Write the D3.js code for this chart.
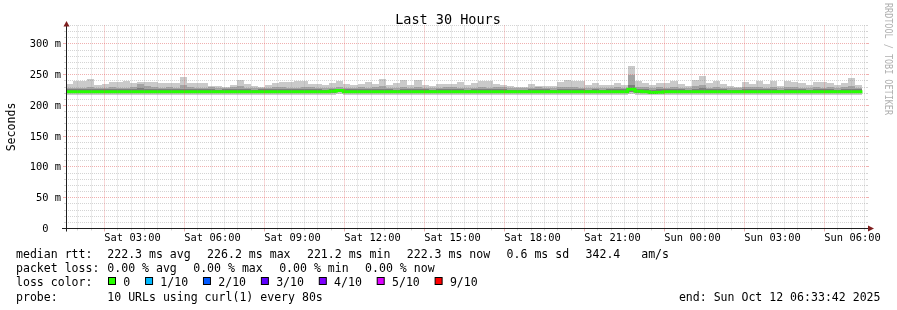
<!DOCTYPE html>
<html>
<head>
<meta charset="utf-8">
<script src="https://cdn.jsdelivr.net/npm/d3@7"></script>
<style>
  html, body { margin: 0; padding: 0; background: #fff; }
  svg { will-change: transform; }
  svg text { font-family: "DejaVu Sans Mono", monospace; fill: #000; white-space: pre; }
</style>
</head>
<body>
<svg id="chart" width="897" height="310"></svg>
<script>
// smokeping style "Last 30 Hours" graph

const endTime = new Date(2025, 9, 12, 6, 33, 42);
const hoursShown = 30;
const stepSeconds = 960;   // 12 pings x 80s per consolidated step

// values in ms, one per step
const medianRtt = [
  222.3, 222.3, 222.3, 222.3, 222.3, 222.3, 222.3, 222.3, 222.3, 222.3,
  222.3, 222.3, 222.3, 222.3, 222.3, 222.3, 222.3, 222.3, 222.3, 222.3,
  222.3, 222.3, 222.3, 222.3, 222.3, 222.3, 222.3, 222.3, 222.3, 222.3,
  222.3, 222.3, 222.3, 222.3, 222.3, 222.3, 222.3, 223.0, 224.4, 222.3,
  222.3, 222.3, 222.3, 222.3, 222.3, 222.3, 222.3, 222.3, 222.3, 222.3,
  222.3, 222.3, 222.3, 222.3, 222.3, 222.3, 222.3, 222.3, 222.3, 222.3,
  222.3, 222.3, 222.3, 222.3, 222.3, 222.3, 222.3, 222.3, 222.3, 222.3,
  222.3, 222.3, 222.3, 222.3, 222.3, 222.3, 222.3, 222.3, 222.3, 226.2,
  223.2, 222.3, 221.2, 221.6, 222.3, 222.3, 222.3, 222.3, 222.3, 222.3,
  222.3, 222.3, 222.3, 222.3, 222.3, 222.3, 222.3, 222.3, 222.3, 222.3,
  222.3, 222.3, 222.3, 222.3, 222.3, 222.3, 222.3, 222.3, 222.3, 222.3,
  222.3, 222.3
];
const rttMax = [
  235.3, 239.1, 239.1, 243.0, 233.7, 234.8, 238.0, 238.0, 239.1, 236.4,
  238.0, 238.0, 238.0, 236.4, 236.4, 236.4, 246.2, 236.4, 236.4, 236.4,
  231.5, 231.5, 229.9, 232.6, 241.3, 234.8, 231.5, 229.9, 232.6, 236.4,
  238.0, 238.0, 239.1, 239.1, 234.8, 234.8, 232.6, 236.5, 239.1, 234.8,
  232.6, 234.8, 238.0, 234.8, 243.0, 232.6, 236.4, 241.3, 232.6, 241.3,
  232.6, 231.5, 234.8, 234.8, 234.8, 238.0, 233.7, 236.4, 239.1, 239.1,
  234.8, 233.7, 231.5, 229.9, 229.4, 234.8, 231.0, 231.5, 231.5, 238.0,
  241.0, 240.2, 239.1, 233.7, 237.0, 232.6, 233.7, 236.4, 233.7, 264.7,
  239.1, 236.4, 232.6, 236.4, 236.4, 239.1, 234.8, 231.0, 241.3, 248.4,
  236.4, 239.1, 234.8, 231.0, 229.4, 238.0, 234.8, 239.1, 234.8, 239.1,
  231.0, 239.1, 238.0, 236.4, 232.6, 238.0, 238.0, 236.4, 232.6, 236.4,
  244.6, 232.6
];
const rttP9 = [
  228.5, 229.0, 229.0, 230.0, 228.5, 229.0, 229.5, 229.0, 229.0, 230.0,
  235.0, 231.0, 229.5, 229.0, 230.0, 229.0, 233.0, 229.5, 229.0, 229.0,
  229.5, 228.5, 229.0, 230.5, 231.0, 229.0, 228.5, 229.0, 228.5, 229.5,
  230.0, 229.0, 229.0, 230.0, 230.5, 229.0, 228.5, 229.0, 230.0, 228.5,
  229.0, 229.5, 229.0, 230.0, 231.0, 229.0, 228.5, 229.5, 229.0, 230.0,
  229.0, 228.5, 229.0, 229.5, 230.0, 229.0, 228.5, 229.0, 229.5, 229.0,
  230.0, 229.5, 228.5, 228.5, 228.0, 229.0, 229.5, 229.0, 228.5, 230.0,
  230.5, 229.5, 229.0, 228.5, 229.0, 228.5, 229.0, 229.5, 228.5, 250.0,
  230.0, 229.5, 228.5, 229.5, 229.0, 229.5, 229.0, 228.5, 232.0, 233.5,
  229.0, 229.5, 229.0, 228.5, 228.0, 230.0, 229.5, 230.0, 229.0, 230.0,
  228.5, 229.5, 229.5, 229.0, 228.5, 229.5, 229.0, 229.5, 228.5, 229.5,
  231.0, 229.0
];
const rttP8 = [
  226.3, 226.5, 226.0, 226.7, 226.1, 226.3, 226.9, 226.2, 226.0, 226.5,
  228.0, 227.0, 226.3, 226.1, 226.5, 226.0, 227.5, 226.3, 226.1, 226.0,
  226.5, 225.9, 226.3, 226.9, 227.0, 226.1, 225.9, 226.3, 226.0, 226.5,
  226.7, 226.1, 226.3, 226.8, 227.0, 226.2, 225.9, 226.4, 227.0, 226.0,
  226.3, 226.5, 226.1, 226.7, 227.0, 226.2, 225.9, 226.5, 226.1, 226.9,
  226.0, 225.8, 226.2, 226.5, 226.7, 226.1, 225.9, 226.3, 226.6, 226.2,
  226.8, 226.4, 225.9, 225.8, 225.7, 226.3, 226.5, 226.1, 225.9, 226.8,
  227.1, 226.5, 226.2, 225.9, 226.3, 225.9, 226.1, 226.5, 226.0, 234.0,
  226.9, 226.5, 225.9, 226.5, 226.2, 226.5, 226.3, 225.9, 227.0, 228.0,
  226.2, 226.6, 226.3, 225.9, 225.7, 226.8, 226.4, 226.7, 226.2, 226.8,
  225.9, 226.5, 226.5, 226.2, 225.9, 226.5, 226.3, 226.5, 225.9, 226.5,
  226.8, 226.1
];
const rttP2 = [
  220.2, 220.0, 220.3, 220.1, 220.2, 220.2, 220.0, 220.3, 220.2, 220.1,
  220.4, 220.2, 220.1, 220.2, 220.0, 220.2, 220.5, 220.2, 220.1, 220.2,
  220.0, 220.2, 220.1, 220.3, 220.4, 220.2, 220.0, 220.1, 220.2, 220.2,
  220.3, 220.1, 220.2, 220.2, 220.3, 220.1, 220.0, 220.6, 221.5, 220.4,
  220.2, 220.1, 220.2, 220.3, 220.4, 220.2, 220.0, 220.2, 220.1, 220.3,
  220.0, 220.1, 220.2, 220.2, 220.3, 220.1, 220.0, 220.2, 220.2, 220.1,
  220.3, 220.2, 220.0, 220.0, 219.9, 220.2, 220.2, 220.1, 220.0, 220.3,
  220.3, 220.2, 220.1, 220.0, 220.1, 220.0, 220.1, 220.2, 220.0, 221.8,
  220.6, 220.2, 219.8, 220.0, 220.1, 220.2, 220.1, 220.0, 220.4, 220.5,
  220.1, 220.2, 220.1, 220.0, 219.9, 220.3, 220.2, 220.2, 220.1, 220.2,
  220.0, 220.2, 220.2, 220.1, 220.0, 220.2, 220.1, 220.2, 220.0, 220.2,
  220.4, 220.1
];
const rttMin = [
  217.4, 217.3, 217.5, 217.2, 217.4, 217.5, 217.3, 217.4, 217.6, 217.4,
  217.2, 217.4, 217.5, 217.3, 217.4, 217.4, 217.1, 217.5, 217.4, 217.3,
  217.5, 217.4, 217.6, 217.3, 217.2, 217.4, 217.5, 217.4, 217.3, 217.4,
  217.3, 217.5, 217.4, 217.3, 217.2, 217.4, 217.6, 217.8, 218.4, 217.6,
  217.4, 217.5, 217.3, 217.4, 217.2, 217.4, 217.5, 217.3, 217.4, 217.2,
  217.5, 217.4, 217.3, 217.4, 217.3, 217.5, 217.4, 217.3, 217.4, 217.5,
  217.3, 217.4, 217.5, 217.6, 217.5, 217.4, 217.3, 217.4, 217.5, 217.3,
  217.2, 217.4, 217.5, 217.4, 217.3, 217.5, 217.4, 217.3, 217.5, 218.6,
  217.8, 217.4, 217.0, 217.2, 217.4, 217.3, 217.4, 217.5, 217.2, 217.1,
  217.4, 217.3, 217.4, 217.5, 217.6, 217.3, 217.4, 217.3, 217.4, 217.3,
  217.5, 217.4, 217.3, 217.4, 217.5, 217.3, 217.4, 217.3, 217.5, 217.4,
  217.2, 217.4
];

const yMax = 330;
const yMajorTicks = [0, 50, 100, 150, 200, 250, 300];
const yMinorStep = 10;

const rttStats = ["222.3 ms avg", "226.2 ms max", "221.2 ms min", "222.3 ms now", "0.6 ms sd", "342.4   am/s"];
const lossStats = ["0.00 % avg", "0.00 % max", "0.00 % min", "0.00 % now"];
const lossLabels = ["0", "1/10", "2/10", "3/10", "4/10", "5/10", "9/10"];
const lossColors = ["#26ff00", "#00b8ff", "#0059ff", "#5e00ff", "#7e00ff", "#dd00ff", "#ff0000"];
const probeText = "10 URLs using curl(1) every 80s";
const endText = "end: Sun Oct 12 06:33:42 2025";

// layout
const plot = {left: 66, right: 866, top: 25.5, bottom: 228.5};
const gridColor = "rgba(143,143,143,0.38)";
const mgridColor = "rgba(222,79,79,0.45)";

const svg = d3.select("#chart");
const startTime = d3.timeHour.offset(endTime, -hoursShown);

const x = d3.scaleTime().domain([startTime, endTime]).range([plot.left, plot.right]);
const y = d3.scaleLinear().domain([0, yMax]).range([plot.bottom, plot.top]);
const px = v => Math.floor(v) + 0.5;

const steps = medianRtt.map((m, i) => ({
  t0: d3.timeSecond.offset(startTime, i * stepSeconds),
  t1: d3.timeSecond.offset(startTime, (i + 1) * stepSeconds),
  median: m, max: rttMax[i], p9: rttP9[i], p8: rttP8[i], p2: rttP2[i], min: rttMin[i]
}));

// smoke, outer band lightest
const bands = [
  {lo: "min", hi: "max", color: "#cacaca"},
  {lo: "p2", hi: "p9", color: "#a4a4a4"},
  {lo: "p2", hi: "p8", color: "#7e7e7e"}
];
bands.forEach(b => {
  svg.append("g").selectAll("rect")
    .data(steps)
    .enter()
    .append("rect")
      .attr("x", d => x(d.t0))
      .attr("width", d => x(d.t1) - x(d.t0))
      .attr("y", d => y(d[b.hi]))
      .attr("height", d => y(d[b.lo]) - y(d[b.hi]))
      .attr("fill", b.color)
      .attr("shape-rendering", "crispEdges");
});

// median line, coloured by loss (all 0 here)
const medPts = steps.map(d => ({t: d.t0, v: d.median}));
medPts.push({t: steps[steps.length - 1].t1, v: steps[steps.length - 1].median});
svg.append("path")
  .datum(medPts)
  .attr("fill", "none")
  .attr("stroke", lossColors[0])
  .attr("stroke-width", 3)
  .attr("d", d3.line().x(d => x(d.t)).y(d => y(d.v)).curve(d3.curveStepAfter));

// grid
const labelTimes = d3.timeHour.every(3).range(startTime, endTime);
const majorTimes = labelTimes.map(t => d3.timeHour.offset(t, -1));
const majorSet = new Set(majorTimes.map(t => +t));
const minorTimes = d3.timeMinute.every(30).range(startTime, endTime).filter(t => !majorSet.has(+t));

const grid = svg.append("g").attr("fill", "none").attr("stroke-width", 1);

const yMinor = d3.range(yMinorStep, yMax + 1, yMinorStep).filter(v => v % 50 !== 0);
yMinor.forEach(v => {
  grid.append("line").attr("x1", plot.left).attr("x2", plot.right)
    .attr("y1", px(y(v))).attr("y2", px(y(v)))
    .attr("stroke", gridColor).attr("stroke-dasharray", "1,1");
  grid.append("line").attr("x1", plot.left - 2).attr("x2", plot.left)
    .attr("y1", px(y(v))).attr("y2", px(y(v))).attr("stroke", gridColor);
  grid.append("line").attr("x1", plot.right).attr("x2", plot.right + 2)
    .attr("y1", px(y(v))).attr("y2", px(y(v))).attr("stroke", gridColor);
});
minorTimes.forEach(t => {
  grid.append("line").attr("y1", plot.top).attr("y2", plot.bottom)
    .attr("x1", px(x(t))).attr("x2", px(x(t)))
    .attr("stroke", gridColor).attr("stroke-dasharray", "1,1");
  grid.append("line").attr("y1", plot.bottom).attr("y2", plot.bottom + 2)
    .attr("x1", px(x(t))).attr("x2", px(x(t))).attr("stroke", gridColor);
});
yMajorTicks.filter(v => v > 0).forEach(v => {
  grid.append("line").attr("x1", plot.left).attr("x2", plot.right)
    .attr("y1", px(y(v))).attr("y2", px(y(v)))
    .attr("stroke", mgridColor).attr("stroke-dasharray", "1,1");
  grid.append("line").attr("x1", plot.left - 3).attr("x2", plot.left)
    .attr("y1", px(y(v))).attr("y2", px(y(v))).attr("stroke", mgridColor);
  grid.append("line").attr("x1", plot.right).attr("x2", plot.right + 3)
    .attr("y1", px(y(v))).attr("y2", px(y(v))).attr("stroke", mgridColor);
});
majorTimes.forEach(t => {
  grid.append("line").attr("y1", plot.top).attr("y2", plot.bottom)
    .attr("x1", px(x(t))).attr("x2", px(x(t)))
    .attr("stroke", mgridColor).attr("stroke-dasharray", "1,1");
  grid.append("line").attr("y1", plot.bottom).attr("y2", plot.bottom + 3)
    .attr("x1", px(x(t))).attr("x2", px(x(t))).attr("stroke", mgridColor);
});

// axes + arrows
const axisColor = "#1f1f1f";
const arrowColor = "#7f1f1f";
svg.append("line")
  .attr("x1", plot.left - 4).attr("x2", plot.right + 3)
  .attr("y1", plot.bottom).attr("y2", plot.bottom)
  .attr("stroke", axisColor);
svg.append("line")
  .attr("x1", px(plot.left)).attr("x2", px(plot.left))
  .attr("y1", plot.bottom + 3).attr("y2", plot.top - 1)
  .attr("stroke", axisColor);
svg.append("path")
  .attr("d", `M${plot.right + 2},${plot.bottom - 3}L${plot.right + 8},${plot.bottom}L${plot.right + 2},${plot.bottom + 3}Z`)
  .attr("fill", arrowColor);
svg.append("path")
  .attr("d", `M${px(plot.left) - 3},${plot.top + 1}L${px(plot.left)},${plot.top - 4.5}L${px(plot.left) + 3},${plot.top + 1}Z`)
  .attr("fill", arrowColor);

// axis labels
const yLabels = svg.append("g").attr("font-size", "10.4px").attr("text-anchor", "end");
yMajorTicks.forEach(v => {
  yLabels.append("text")
    .attr("x", 61)
    .attr("y", px(y(v)) + 3.5)
    .text(v === 0 ? "0\u00a0\u00a0" : `${v} m`);
});

const fmt = d3.timeFormat("%a %H:%M");
const xLabels = svg.append("g").attr("font-size", "10.4px").attr("text-anchor", "middle");
labelTimes.forEach(t => {
  xLabels.append("text")
    .attr("x", x(t) + 1.5)
    .attr("y", 241)
    .text(fmt(t));
});

// title, y title, watermark
svg.append("text")
  .attr("x", 448).attr("y", 24)
  .attr("text-anchor", "middle")
  .attr("font-size", "13.5px")
  .text("Last 30 Hours");

svg.append("text")
  .attr("transform", "translate(15,127) rotate(-90)")
  .attr("text-anchor", "middle")
  .attr("font-size", "11.56px")
  .text("Seconds");

svg.append("text")
  .attr("transform", "translate(884.5,3) rotate(90)")
  .attr("font-size", "11px")
  .attr("textLength", 112)
  .attr("lengthAdjust", "spacingAndGlyphs")
  .style("fill", "#b0b0b0")
  .text("RRDTOOL / TOBI OETIKER");

// legend
const legend = svg.append("g").attr("font-size", "11.56px");
const rowY = [258, 272.2, 286.4, 300.6];
const colX = 107.3;
const itemGap = 16.4;

function legendRow(yb, label, items) {
  legend.append("text").attr("x", 16).attr("y", yb).text(label);
  let xx = colX;
  items.forEach(s => {
    const t = legend.append("text").attr("x", xx).attr("y", yb).text(s);
    xx += t.node().getComputedTextLength() + itemGap;
  });
}
legendRow(rowY[0], "median rtt:", rttStats);
legendRow(rowY[1], "packet loss:", lossStats);

legend.append("text").attr("x", 16).attr("y", rowY[2]).text("loss color:");
let bx = 108.5;
lossLabels.forEach((lab, i) => {
  legend.append("rect")
    .attr("x", bx).attr("y", rowY[2] - 8.9)
    .attr("width", 7).attr("height", 7)
    .attr("fill", lossColors[i])
    .attr("stroke", "#000").attr("stroke-width", 1);
  const t = legend.append("text").attr("x", bx + 14.8).attr("y", rowY[2]).text(lab);
  bx += 14.8 + t.node().getComputedTextLength() + 15.3;
});

legend.append("text").attr("x", 16).attr("y", rowY[3]).text("probe:");
legend.append("text").attr("x", colX).attr("y", rowY[3]).text(probeText);
legend.append("text").attr("x", 880.5).attr("y", rowY[3]).attr("text-anchor", "end").text(endText);
</script>
</body>
</html>
